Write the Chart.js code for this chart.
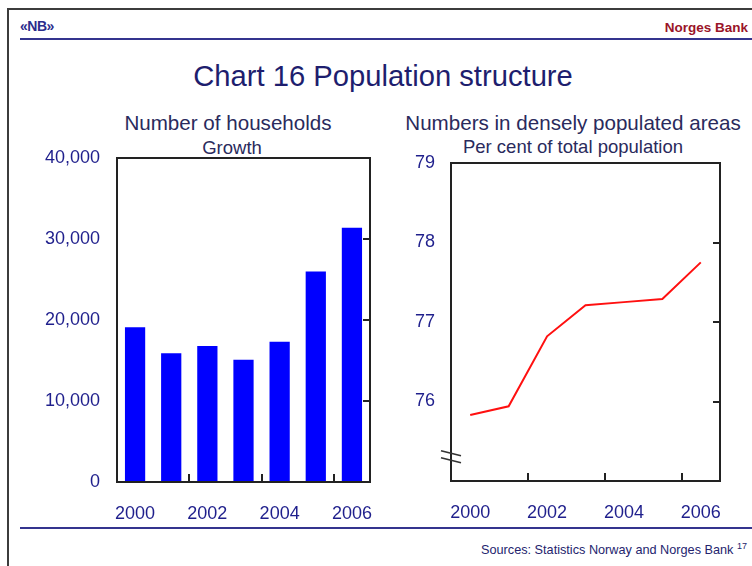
<!DOCTYPE html>
<html>
<head>
<meta charset="utf-8">
<title>Chart 16 Population structure</title>
<script src="https://cdn.jsdelivr.net/npm/chart.js@4.4.1/dist/chart.umd.min.js"></script>
<style>
  html, body {
    margin: 0;
    padding: 0;
    background: #fff;
  }
  body {
    width: 752px;
    height: 566px;
    position: relative;
    overflow: hidden;
    font-family: "Liberation Sans", Arial, sans-serif;
  }
  .frame {
    position: absolute;
    left: 7px;
    top: 8px;
    width: 760px;
    height: 600px;
    border-top: 2px solid #3c3c3c;
    border-left: 2px solid #3c3c3c;
  }
  .rule {
    position: absolute;
    left: 20px;
    width: 732px;
    height: 2px;
    background: #34348e;
  }
  .txt {
    position: absolute;
    white-space: nowrap;
    line-height: 1;
    transform: translate(-50%, -50%);
  }
  .logo {
    position: absolute;
    left: 20px;
    top: 18px;
    font-weight: bold;
    font-size: 14px;
    color: #2c2c8c;
    letter-spacing: -0.5px;
  }
  .bank {
    position: absolute;
    right: 4px;
    top: 20px;
    font-weight: bold;
    font-size: 13.5px;
    color: #9a1428;
  }
  .title {
    font-size: 29.2px;
    color: #1e1e6e;
  }
  .sub1 {
    font-size: 20.6px;
    color: #2a2a5c;
  }
  .sub2 {
    font-size: 18.5px;
    color: #2a2a5c;
  }
  .sources {
    position: absolute;
    right: 5px;
    top: 541px;
    font-size: 12.7px;
    color: #24246e;
  }
  .sources sup {
    font-size: 9px;
  }
  canvas {
    position: absolute;
  }
</style>
</head>
<body>
<div class="frame"></div>
<div class="logo">«NB»</div>
<div class="bank">Norges Bank</div>
<div class="rule" style="top: 38px"></div>

<div class="txt title" style="left: 383px; top: 77px">Chart 16 Population structure</div>
<div class="txt sub1" style="left: 228px; top: 123px">Number of households</div>
<div class="txt sub2" style="left: 232px; top: 148px">Growth</div>
<div class="txt sub1" style="left: 573px; top: 123px">Numbers in densely populated areas</div>
<div class="txt sub2" style="left: 573px; top: 147px">Per cent of total population</div>

<canvas id="households" style="left: 20px; top: 140px" width="360" height="390"></canvas>
<canvas id="urban" style="left: 380px; top: 140px" width="372" height="390"></canvas>

<div class="rule" style="top: 527px"></div>
<div class="sources">Sources: Statistics Norway and Norges Bank <sup>17</sup></div>

<script>
const YEARS = ["2000", "2001", "2002", "2003", "2004", "2005", "2006"];

// growth in number of households
const HOUSEHOLD_GROWTH = [19100, 15900, 16800, 15100, 17300, 26000, 31400];
const HOUSEHOLD_TICKS = [0, 10000, 20000, 30000, 40000];

// share of population living in densely populated areas, per cent
const URBAN_SHARE = [75.83, 75.94, 76.82, 77.21, 77.25, 77.29, 77.75];
const URBAN_TICKS = [76, 77, 78, 79];

const TICK_COLOR = "#1f1f8c";
const FRAME_COLOR = "#222";

// only every second year is labelled
function yearLabel(value, index) {
  return index % 2 === 0 ? YEARS[index] : "";
}

// box around the plot, inward ticks on the right and bottom, optional axis break
const framePlugin = {
  id: "frame",
  afterDraw(chart, args, opts) {
    const { ctx, chartArea: a, scales } = chart;
    ctx.save();
    ctx.strokeStyle = FRAME_COLOR;
    ctx.lineWidth = 2;
    ctx.strokeRect(a.left, a.top, a.right - a.left, a.bottom - a.top);

    ctx.beginPath();
    opts.rightTicks.forEach((v) => {
      const y = Math.round(scales.y.getPixelForValue(v));
      ctx.moveTo(a.right - 7, y);
      ctx.lineTo(a.right, y);
    });
    [1, 3, 5].forEach((i) => {
      const x = Math.round(
        (scales.x.getPixelForValue(i) + scales.x.getPixelForValue(i + 1)) / 2
      );
      ctx.moveTo(x, a.bottom);
      ctx.lineTo(x, a.bottom - 8);
    });
    ctx.stroke();

    if (opts.breakAt) {
      ctx.lineWidth = 1.6;
      ctx.strokeStyle = "#333";
      ctx.beginPath();
      opts.breakAt.forEach((v) => {
        const y = scales.y.getPixelForValue(v);
        ctx.moveTo(a.left - 10, y - 2.5);
        ctx.lineTo(a.left + 10, y + 2.5);
      });
      ctx.stroke();
    }
    ctx.restore();
  },
};

const tickFont = { family: "'Liberation Sans', Arial, sans-serif", size: 18 };

// label gaps come from invisible tick marks rather than ticks.padding,
// since Chart.js adds the padding to the plot insets as well
function baseOptions(yAxisWidth, labelGap, padding) {
  return {
    responsive: false,
    animation: false,
    layout: { padding },
    plugins: {
      legend: { display: false },
      tooltip: { enabled: false },
    },
    scales: {
      x: {
        offset: true,
        grid: { display: false, drawTicks: true, tickLength: 21 },
        border: { display: false },
        ticks: {
          autoSkip: false,
          maxRotation: 0,
          color: TICK_COLOR,
          font: tickFont,
          padding: 0,
          callback: yearLabel,
        },
        afterFit(scale) {
          scale.height = 48;
        },
      },
      y: {
        grid: { display: false, drawTicks: true, tickLength: labelGap },
        border: { display: false },
        ticks: { color: TICK_COLOR, font: tickFont, padding: 0 },
        afterFit(scale) {
          scale.width = yAxisWidth;
        },
      },
    },
  };
}

function drawHouseholds() {
  const options = baseOptions(97, 17, { top: 18, right: 10, left: 0, bottom: 0 });
  options.scales.y.min = 0;
  options.scales.y.max = 40000;
  options.scales.y.afterBuildTicks = (scale) => {
    scale.ticks = HOUSEHOLD_TICKS.map((value) => ({ value }));
  };
  options.scales.y.ticks.callback = (v) => Number(v).toLocaleString("en-US");
  options.plugins.frame = { rightTicks: [10000, 20000, 30000] };

  new Chart(document.getElementById("households"), {
    type: "bar",
    data: {
      labels: YEARS,
      datasets: [
        {
          data: HOUSEHOLD_GROWTH,
          backgroundColor: "#0000ff",
          borderWidth: 0,
          categoryPercentage: 1,
          barPercentage: 0.56,
        },
      ],
    },
    options,
    plugins: [framePlugin],
  });
}

function drawUrbanShare() {
  const options = baseOptions(71, 16, { top: 23, right: 32, left: 0, bottom: 0 });
  options.scales.x.afterFit = (scale) => {
    scale.height = 49;
  };
  options.scales.y.min = 75;
  options.scales.y.max = 79;
  options.scales.y.afterBuildTicks = (scale) => {
    scale.ticks = URBAN_TICKS.map((value) => ({ value }));
  };
  options.plugins.frame = { rightTicks: [76, 77, 78], breakAt: [75.35, 75.26] };

  new Chart(document.getElementById("urban"), {
    type: "line",
    data: {
      labels: YEARS,
      datasets: [
        {
          data: URBAN_SHARE,
          borderColor: "#ff1010",
          borderWidth: 2,
          pointRadius: 0,
          tension: 0,
          fill: false,
        },
      ],
    },
    options,
    plugins: [framePlugin],
  });
}

drawHouseholds();
drawUrbanShare();
</script>
</body>
</html>
